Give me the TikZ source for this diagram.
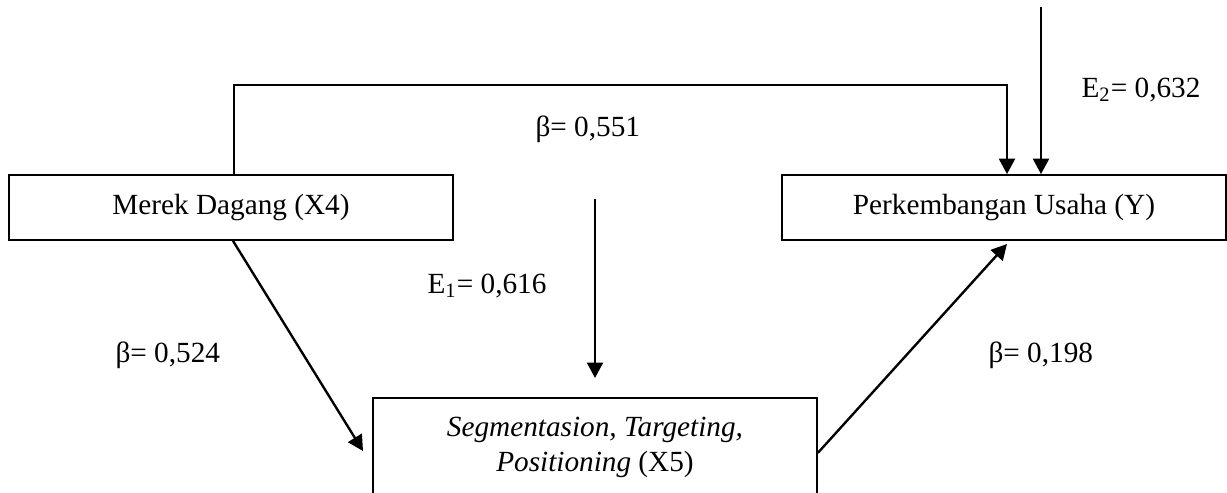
\documentclass[tikz,border=0pt]{standalone}
\usepackage{fontspec}
\setmainfont{Liberation Serif}
\usetikzlibrary{arrows.meta,calc}
\tikzset{
  box/.style={draw, line width=0.7pt, minimum width=177.6pt, inner sep=0pt, align=center, font=\fontsize{11.7}{14}\selectfont},
  lbl/.style={inner sep=0pt, anchor=base west, font=\fontsize{11.7}{14}\selectfont},
  arr/.style={line width=0.95pt, -{Triangle[length=6.2pt,width=6.4pt]}},
  ln/.style={line width=0.95pt}
}
\begin{document}
\begin{tikzpicture}[x=0.4pt,y=-0.4pt]
\useasboundingbox (0,0) rectangle (1227,493);
\clip (0,0) rectangle (1227,493);
% boxes
\node[box, minimum height=26pt] (mer) at (231,207.5) {Merek Dagang (X4)};
\node[box, minimum height=26pt] (per) at (1004,207.5) {Perkembangan Usaha (Y)};
\node[box, minimum height=40pt, anchor=north] (seg) at (595,397) {\textit{Segmentasion, Targeting,}\\\textit{Positioning} (X5)};
% coordinates
\coordinate (topy) at (0,85);
\coordinate (e2top) at (1041,7);
\coordinate (e1top) at (595,199);
\coordinate (e1end) at (595,378);
\coordinate (a1) at (363,451);
\coordinate (a2) at (1007,244);
% connectors
\draw[arr] ($(mer.north)+(3,0)$) |- ($(topy)+(1007,0)$) -- ($(per.north)+(3,0)$);
\draw[arr] (e2top) -- (e2top |- per.north);
\draw[arr] (e1top) -- (e1end);
\draw[arr] ($(mer.south)+(2,0)$) -- (a1);
\draw[arr] ($(seg.east)+(0,5)$) -- (a2);
% labels
\node[lbl] (b1) at (535,136) {β= 0,551};
\node[lbl] (e2) at (1081,97) {E\textsubscript{2}= 0,632};
\node[lbl] (e1) at (427,293) {E\textsubscript{1}= 0,616};
\node[lbl] (b2) at (115,362) {β= 0,524};
\node[lbl] (b3) at (988,362) {β= 0,198};
\end{tikzpicture}
\end{document}
